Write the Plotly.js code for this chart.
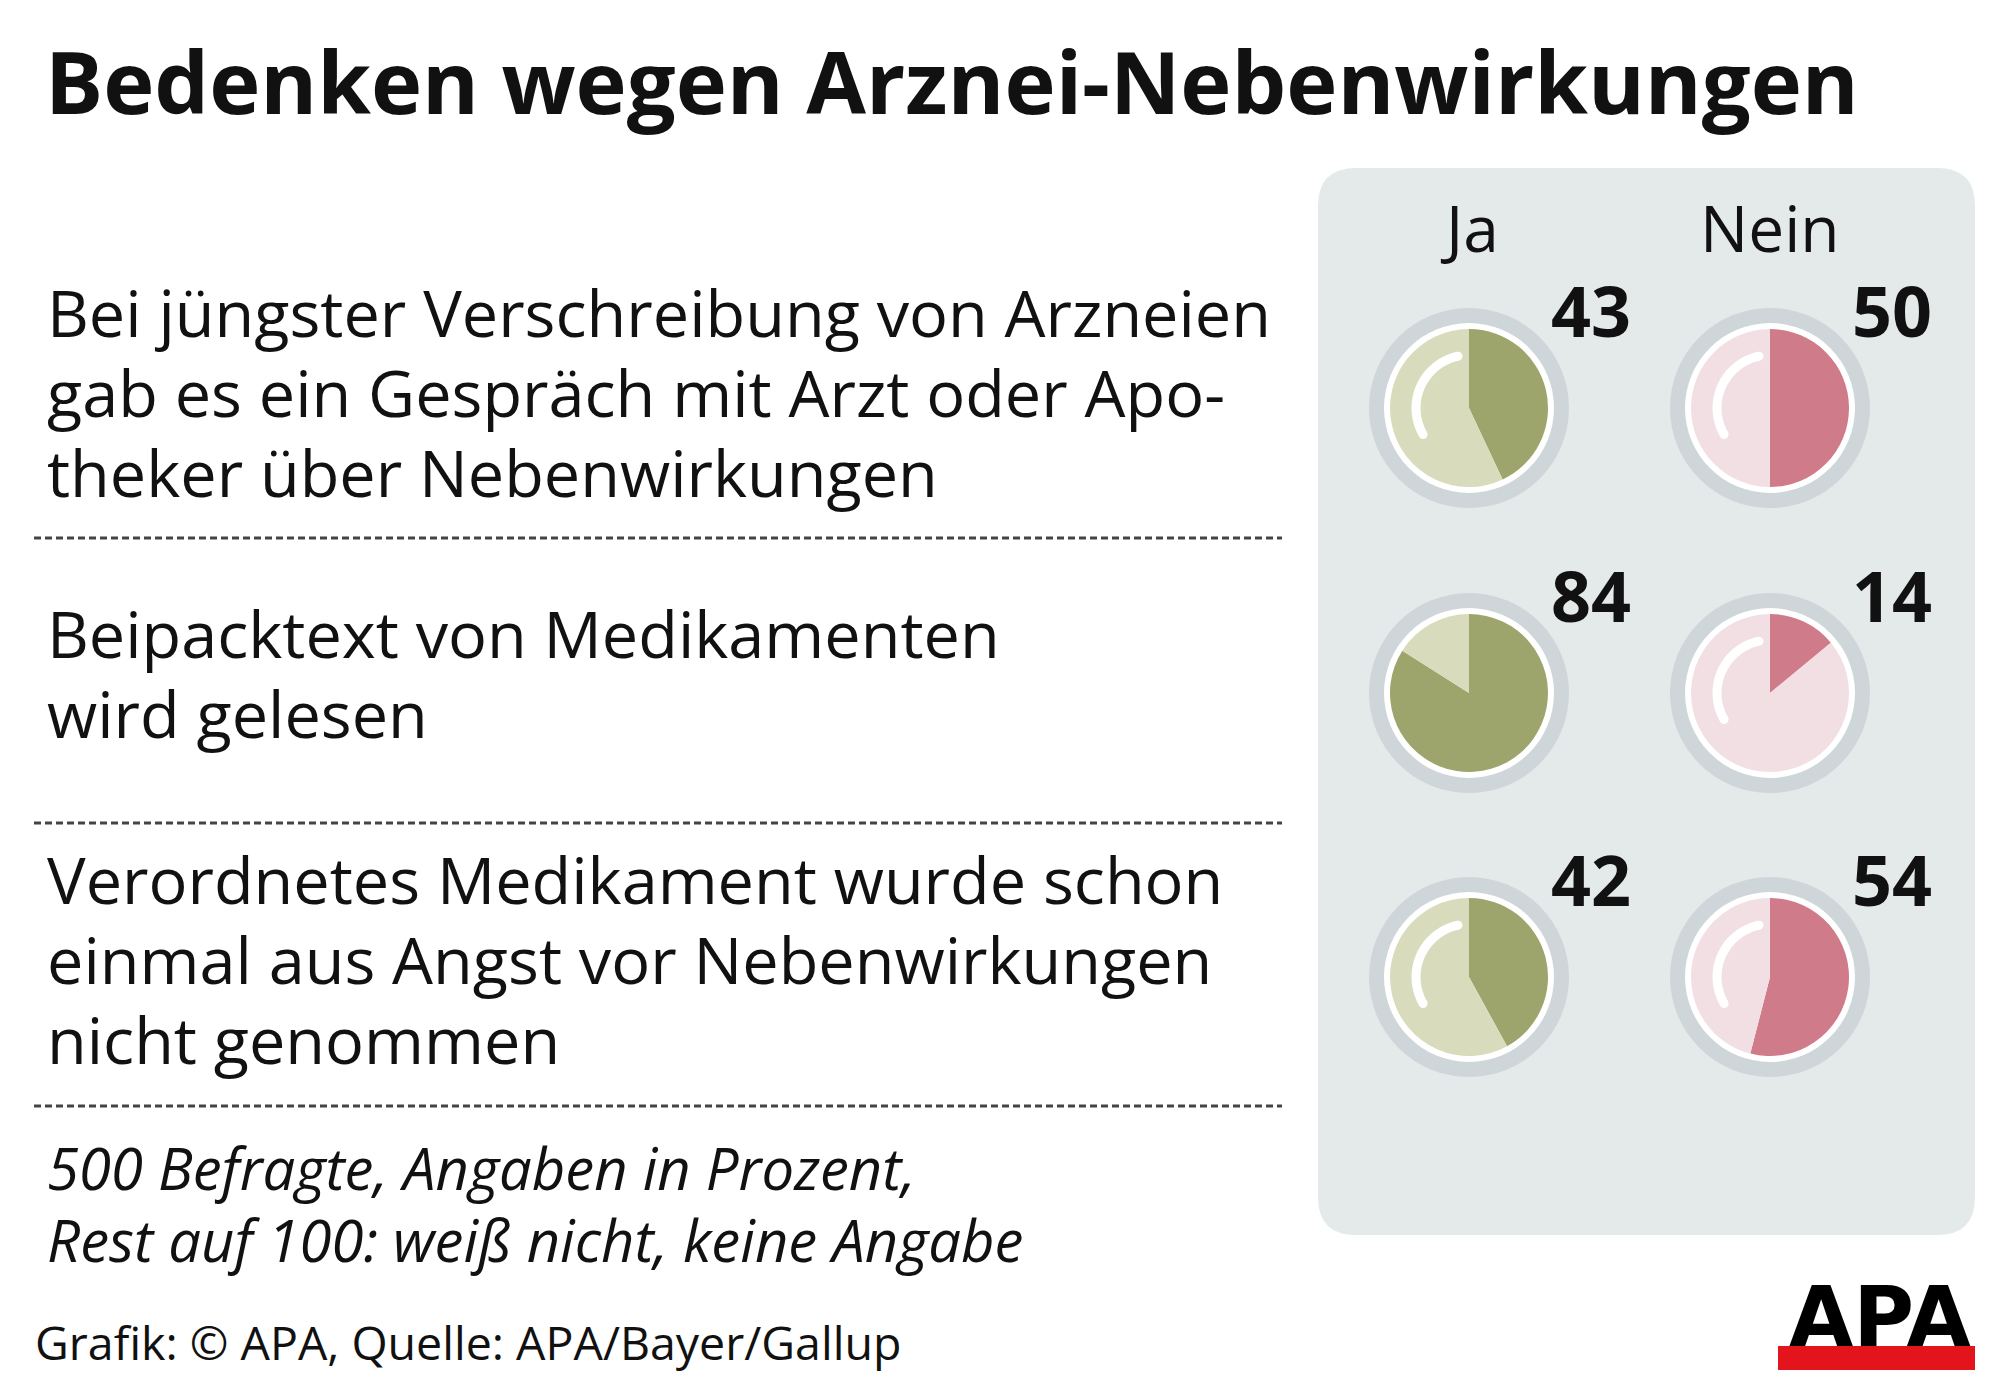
<!DOCTYPE html>
<html>
<head>
<meta charset="utf-8">
<script src="https://cdn.plot.ly/plotly-3.0.1.min.js"></script>
<style>
  html, body { margin: 0; padding: 0; background: #fff; }
  #chart { width: 2000px; height: 1375px; }
</style>
</head>
<body>
<div id="chart"></div>
<script>
// survey data
const titleText = "Bedenken wegen Arznei-Nebenwirkungen";
const columns = ["Ja", "Nein"];
const questions = [
  ["Bei jüngster Verschreibung von Arzneien", "gab es ein Gespräch mit Arzt oder Apo-", "theker über Nebenwirkungen"],
  ["Beipacktext von Medikamenten", "wird gelesen"],
  ["Verordnetes Medikament wurde schon", "einmal aus Angst vor Nebenwirkungen", "nicht genommen"]
];
const jaValues = [43, 84, 42];
const neinValues = [50, 14, 54];
const footnote = ["500 Befragte, Angaben in Prozent,", "Rest auf 100: weiß nicht, keine Angabe"];
const sourceText = "Grafik: © APA, Quelle: APA/Bayer/Gallup";

// layout helpers (pixel -> paper)
const W = 2000, H = 1375;
const px = x => x / W;
const py = y => 1 - y / H;
const FONT = "Open Sans";

const colDark = ["#9ea56c", "#d07b89"];
const colLight = ["#d8dcbc", "#f1dfe3"];
const colX = [1469, 1770];
const rowY = [408, 693, 977];
const rowTextBase = [337, 658, 904];
const lineGap = 80;
const pieR = 79;

const annotations = [];
const shapes = [];

function txt(text, x, base, size, opts) {
  opts = opts || {};
  const asc = 1.069, desc = 0.293;
  annotations.push({
    text: text, xref: "paper", yref: "paper",
    x: px(x), y: py(base - size * (asc - desc) / 2),
    xanchor: opts.anchor || "left", yanchor: "middle",
    showarrow: false, borderpad: 0,
    font: { family: opts.family || FONT, size: size, color: opts.color || "#111",
      weight: opts.weight || "normal", style: opts.style || "normal" }
  });
}

// title
txt(titleText, 44, 114, 86.6, { weight: "bold" });

// gray panel with rounded corners
(function () {
  const x0 = 1318, x1 = 1975, y0 = 168, y1 = 1235, r = 38;
  const p = (x, y) => px(x) + "," + py(y);
  const path = "M" + p(x0 + r, y0) + " L" + p(x1 - r, y0) + " Q" + p(x1, y0) + " " + p(x1, y0 + r) +
    " L" + p(x1, y1 - r) + " Q" + p(x1, y1) + " " + p(x1 - r, y1) +
    " L" + p(x0 + r, y1) + " Q" + p(x0, y1) + " " + p(x0, y1 - r) +
    " L" + p(x0, y0 + r) + " Q" + p(x0, y0) + " " + p(x0 + r, y0) + " Z";
  shapes.push({ type: "path", xref: "paper", yref: "paper", path: path, fillcolor: "#e4e9ea", line: { width: 0 }, layer: "below" });
})();

// question labels and dashed separators
questions.forEach((lines, i) => {
  lines.forEach((ln, j) => txt(ln, 46, rowTextBase[i] + j * lineGap, 64.8));
});
[538, 823, 1106].forEach(y => {
  shapes.push({ type: "line", xref: "paper", yref: "paper", x0: px(34), x1: px(1282), y0: py(y), y1: py(y),
    line: { color: "#444", width: 3, dash: "7px,4px" }, layer: "below" });
});

// column headers
columns.forEach((c, k) => txt(c, colX[k], 252, 64, { anchor: "center" }));

// pies
const traces = [];
const series = [jaValues, neinValues];
function circle(cx, cy, r, color, layer) {
  shapes.push({ type: "circle", xref: "paper", yref: "paper", x0: px(cx - r), x1: px(cx + r), y0: py(cy + r), y1: py(cy - r),
    fillcolor: color, line: { width: 0 }, layer: layer || "below" });
}
series.forEach((vals, k) => {
  vals.forEach((v, i) => {
    const cx = colX[k], cy = rowY[i];
    circle(cx, cy, 100, "#ced6d9");
    circle(cx, cy, 85, "#ffffff");
    traces.push({
      type: "pie", values: [v, 100 - v], sort: false, direction: "clockwise", rotation: 0,
      marker: { colors: [colDark[k], colLight[k]], line: { width: 0 } },
      textinfo: "none", hoverinfo: "skip", showlegend: false,
      domain: { x: [px(cx - pieR), px(cx + pieR)], y: [py(cy + pieR), py(cy - pieR)] }
    });
    // value label
    txt(String(v), cx + 163, cy - 71, 70, { anchor: "right", weight: "bold" });
    // glossy highlight only where the light part lies
    const a0 = 240, a1 = 348;
    if (v * 3.6 < a0) {
      const pts = [];
      for (let a = a0; a <= a1; a += 4) {
        const rad = a * Math.PI / 180;
        pts.push(px(cx + 53 * Math.sin(rad)) + "," + py(cy - 53 * Math.cos(rad)));
      }
      shapes.push({ type: "path", xref: "paper", yref: "paper", path: "M" + pts.join(" L"),
        line: { color: "#ffffff", width: 9 }, layer: "above" });
      [a0, a1].forEach(a => {
        const rad = a * Math.PI / 180;
        circle(cx + 53 * Math.sin(rad), cy - 53 * Math.cos(rad), 4.5, "#ffffff", "above");
      });
    }
  });
});

// footnote and source
footnote.forEach((ln, j) => txt(ln, 46, 1190 + j * 72, 58, { style: "italic" }));
txt(sourceText, 34, 1360, 46.5);

// APA logo
shapes.push({ type: "rect", xref: "paper", yref: "paper", x0: px(1778), x1: px(1975), y0: py(1370), y1: py(1346),
  fillcolor: "#e3141b", line: { width: 0 }, layer: "above" });
annotations.push({ text: "APA", xref: "paper", yref: "paper", x: px(1880), y: py(1350), xanchor: "center", yanchor: "bottom",
  showarrow: false, borderpad: 0, yshift: -17,
  font: { family: "DejaVu Sans", size: 83, color: "#000", weight: "bold" } });

const layout = {
  width: W, height: H,
  margin: { l: 0, r: 0, t: 0, b: 0 },
  paper_bgcolor: "#ffffff",
  showlegend: false,
  annotations: annotations,
  shapes: shapes
};

Plotly.newPlot("chart", traces, layout, { displayModeBar: false, staticPlot: true });
</script>
</body>
</html>
